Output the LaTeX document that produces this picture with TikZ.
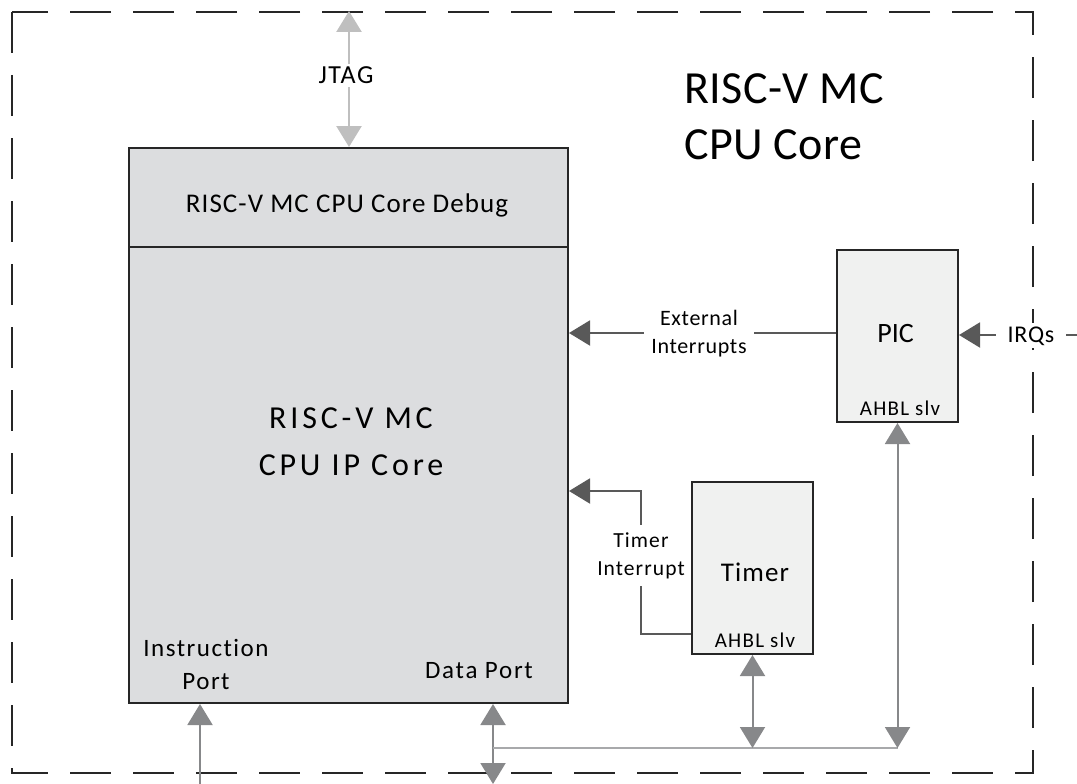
\documentclass[tikz,border=0pt]{standalone}
\usepackage{fontspec}
\setmainfont{Carlito}[Ligatures=NoCommon]
\usetikzlibrary{arrows.meta}
\definecolor{corefill}{HTML}{DCDDDF}
\definecolor{blockfill}{HTML}{F0F1F0}
\definecolor{dkarrow}{HTML}{595959}
\definecolor{mdarrow}{HTML}{87888A}
\definecolor{ltarrow}{HTML}{BFBFBF}
\definecolor{busline}{HTML}{A8A9AB}
\definecolor{edge}{HTML}{262626}
% font size, line skip and tracking in one go
\newcommand\sizetrk[3]{\fontsize{#1}{#2}\selectfont\addfontfeature{LetterSpace=#3}}
\tikzset{
  corebox/.style={draw=edge, line width=2pt, fill=corefill, inner sep=0pt},
  blockbox/.style={draw=edge, line width=2pt, fill=blockfill, inner sep=0pt},
  frame/.style={draw=edge, line width=2pt, dash pattern=on 41pt off 22pt},
  tip/.style={-{Triangle[width=25pt,length=21pt]}},
  dtip/.style={{Triangle[width=25pt,length=21pt]}-{Triangle[width=25pt,length=21pt]}},
  irqline/.style={draw=dkarrow, line width=2pt},
  busarrow/.style={draw=mdarrow, line width=2pt},
  dbgarrow/.style={draw=ltarrow, line width=2.5pt},
  lbl/.style={fill=white, inner sep=3pt, align=center, text=black},
  txt/.style={inner sep=0pt, align=center, text=black},
}
\begin{document}
\begin{tikzpicture}[x=1pt, y=-1pt]
\useasboundingbox (0,0) rectangle (1077,784);

% outer boundary of the CPU core
\draw[frame] (12,12) rectangle (1033,773);

% title
\node[txt, anchor=west, align=left, font=\sizetrk{46}{56}{1}] (title) at (684,116.5) {RISC-V MC\\CPU Core};

% processor core with its debug section on top
\node[corebox, minimum width=439pt, minimum height=99pt] (dbg) at (348.5,197.5) {};
\node[corebox, minimum width=439pt, minimum height=456pt] (core) at (348.5,475) {};
\node[txt, anchor=base, font=\sizetrk{27}{32}{4}] (dbgtxt) at (347,212) {RISC-V MC CPU Core Debug};
\node[txt, font=\sizetrk{32}{47}{12}] (coretxt) at (351,441.5) {RISC-V MC\\CPU IP Core};
\node[txt, font=\sizetrk{25}{33}{6}] (iport) at (206,664.5) {Instruction\\Port};
\node[txt, anchor=base, font=\sizetrk{25}{30}{7}] (dport) at (479,678) {Data Port};

% peripherals
\node[blockbox, minimum width=121pt, minimum height=172pt] (pic) at (897.5,336) {};
\node[txt, anchor=base, font=\sizetrk{28}{34}{0}] (pictxt) at (895.5,342) {PIC};
\node[txt, anchor=base, font=\sizetrk{21}{25}{6}] (picslv) at (900,415) {AHBL slv};

\node[blockbox, minimum width=121pt, minimum height=172pt] (timer) at (752.5,568) {};
\node[txt, anchor=base, font=\sizetrk{27}{32}{4}] (timertxt) at (755,581) {Timer};
\node[txt, anchor=base, font=\sizetrk{21}{25}{6}] (timerslv) at (755,647) {AHBL slv};

% JTAG debug access
\coordinate (jtagtop) at (349,11);
\draw[dbgarrow, dtip, ltarrow] (jtagtop) -- (jtagtop |- dbg.north);
\node[lbl, anchor=base, font=\sizetrk{26}{30}{6}] (jtag) at (346,84) {JTAG};

% interrupt lines
\draw[irqline, tip, dkarrow] ([yshift=3pt]pic.west) -- ([yshift=3pt]pic.west -| core.east);
\node[lbl, inner xsep=7pt, font=\sizetrk{22}{28}{3}] (extl) at (699,334) {External\\Interrupts};

\coordinate (irqin) at (1077,335);
\draw[irqline, tip, dkarrow] (irqin) -- (irqin -| pic.east);
\node[lbl, inner xsep=12pt, anchor=base, font=\sizetrk{24}{28}{3}] (irql) at (1031,342) {IRQs};

\coordinate (tbend) at (641,491);
\draw[irqline, tip, dkarrow] ([yshift=21pt]timer.south west) -| (tbend) -- (tbend -| core.east);
\node[lbl, inner ysep=7pt, font=\sizetrk{21.5}{28}{5}] (tintl) at (641,555.5) {Timer\\Interrupt};

% memory ports and peripheral bus
\coordinate (ibot) at (200,790);
\draw[busarrow, tip, mdarrow] (ibot) -- (ibot |- core.south);

\coordinate (dbot) at (493,784);
\draw[busarrow, dtip, mdarrow] (dbot) -- (dbot |- core.south);

\coordinate (busr) at (897.5,748);
\draw[draw=busline, line width=1.6pt] (dbot |- busr) -- (busr);
\draw[busarrow, dtip, mdarrow] (busr) -- (busr |- pic.south);
\draw[busarrow, dtip, mdarrow] (timer.south) -- (timer.south |- busr);
\end{tikzpicture}
\end{document}
